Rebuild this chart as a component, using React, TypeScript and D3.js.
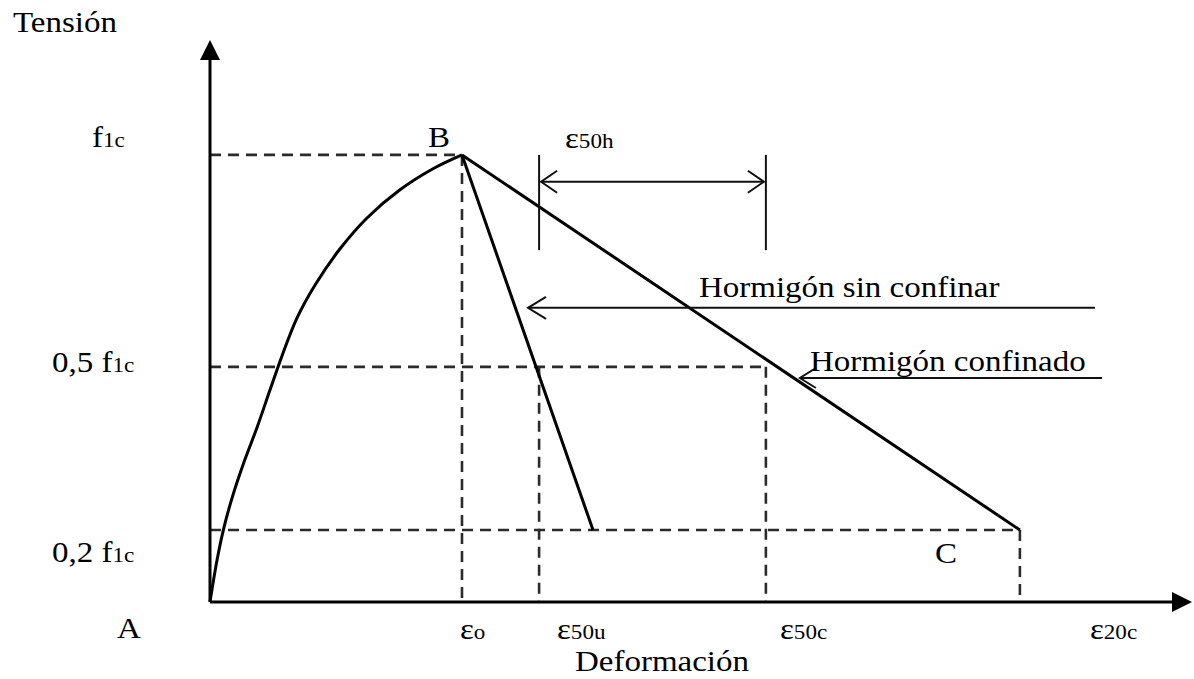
import React from 'react';
import * as d3 from 'd3';

// ---- Data (strain in units of ε0, stress in units of f1c) ----
const ascendingStrain = [0, 0.028, 0.056, 0.091, 0.135, 0.187, 0.238, 0.29, 0.345, 0.417, 0.516, 0.623, 0.754, 0.885, 1];
const ascendingStress = [0, 0.094, 0.168, 0.239, 0.313, 0.391, 0.474, 0.557, 0.635, 0.709, 0.79, 0.859, 0.922, 0.969, 1];
const unconfinedStrain = [1, 1.52];
const unconfinedStress = [1, 0.161];
const confinedStrain = [1, 3.214];
const confinedStress = [1, 0.161];

const stressLevels = [1, 0.526, 0.161];
const stressLabelMain = ['f', '0,5 f', '0,2 f'];
const stressLabelSub = ['1c', '1c', '1c'];
const stressLabelStrain = [-0.468, -0.627, -0.627];
const stressLabelStress = [1.018, 0.515, 0.09];

const strainMarks = [1, 1.306, 2.206, 3.214];
const strainLabelMain = ['ε', 'ε', 'ε', 'ε'];
const strainLabelSub = ['o', '50u', '50c', '20c'];
const strainLabelStrain = [0.992, 1.377, 2.262, 3.492];
const strainLabelStress = [-0.083, -0.083, -0.083, -0.083];

const X_MAX = 3.897;
const Y_MAX = 1.257;
const ARROW_LEN = 20;

const W = 1194;
const H = 679;

const FS = 30;
const SUB = 21;
const SX = 1.1;

function Label({ x, y, main, sub, anchor = 'start', fs = FS }: { x: number; y: number; main: string; sub?: string; anchor?: string; fs?: number }) {
  return (
    <text
      transform={`translate(${x},${y}) scale(${SX},1)`}
      fontFamily="'Liberation Serif', 'Times New Roman', serif"
      fontSize={fs}
      fill="#000"
      textAnchor={anchor}
    >
      <tspan>{main}</tspan>
      {sub ? <tspan fontSize={SUB}>{sub}</tspan> : null}
    </text>
  );
}

export default function App() {
  const x = d3.scaleLinear().domain([0, X_MAX]).range([210, 1192]);
  const y = d3.scaleLinear().domain([0, Y_MAX]).range([602, 40]);

  const asc = ascendingStrain.map((s, i) => [s, ascendingStress[i]] as [number, number]);
  const lineGen = d3
    .line<[number, number]>()
    .x((d) => x(d[0]))
    .y((d) => y(d[1]))
    .curve(d3.curveCatmullRom.alpha(0.5));
  const straight = d3
    .line<[number, number]>()
    .x((d) => x(d[0]))
    .y((d) => y(d[1]));

  const unconf = unconfinedStrain.map((s, i) => [s, unconfinedStress[i]] as [number, number]);
  const conf = confinedStrain.map((s, i) => [s, confinedStress[i]] as [number, number]);

  const x0 = x(0);
  const y0 = y(0);
  const xEnd = x(X_MAX);
  const yTop = y(Y_MAX);

  const dash = { stroke: '#2b2b2b', strokeWidth: 2.6, strokeDasharray: '11 7', fill: 'none' } as const;

  // annotations (data units)
  const dimLeft = strainMarks[1];
  const dimRight = strainMarks[2];
  const dimTop = 1.0;
  const dimBottom = 0.787;
  const dimArrow = 0.94;

  const sinY = 0.658;
  const sinX1 = 1.262;
  const sinX2 = 3.512;
  const confY = 0.501;
  const confX1 = 2.341;
  const confX2 = 3.54;

  const chevron = (px: number, py: number, dir: number, len: number, half: number) =>
    `M${px + dir * len},${py - half} L${px},${py} L${px + dir * len},${py + half}`;

  return (
    <svg
      width={W}
      height={H}
      style={{ position: 'absolute', left: 0, top: 0, background: '#fff' }}
    >
      <rect x={0} y={0} width={W} height={H} fill="#fff" />

      {/* dashed reference lines */}
      <line x1={x0} x2={x(strainMarks[0])} y1={y(stressLevels[0])} y2={y(stressLevels[0])} {...dash} />
      <line x1={x(strainMarks[0])} x2={x(strainMarks[0])} y1={y(stressLevels[0])} y2={y0} {...dash} />
      <line x1={x0} x2={x(strainMarks[2])} y1={y(stressLevels[1])} y2={y(stressLevels[1])} {...dash} />
      <line x1={x(strainMarks[1])} x2={x(strainMarks[1])} y1={y(stressLevels[1])} y2={y0} {...dash} />
      <line x1={x(strainMarks[2])} x2={x(strainMarks[2])} y1={y(stressLevels[1])} y2={y0} {...dash} />
      <line x1={x0} x2={x(strainMarks[3])} y1={y(stressLevels[2])} y2={y(stressLevels[2])} {...dash} />
      <line x1={x(strainMarks[3])} x2={x(strainMarks[3])} y1={y(stressLevels[2])} y2={y0} {...dash} />

      {/* axes */}
      <line x1={x0} x2={x0} y1={y0} y2={yTop + ARROW_LEN} stroke="#000" strokeWidth={3} />
      <path d={`M${x0},${yTop} L${x0 - 10},${yTop + ARROW_LEN} L${x0 + 10},${yTop + ARROW_LEN} Z`} fill="#000" />
      <line x1={x0} x2={xEnd - ARROW_LEN} y1={y0} y2={y0} stroke="#000" strokeWidth={3} />
      <path d={`M${xEnd},${y0} L${xEnd - ARROW_LEN},${y0 - 10} L${xEnd - ARROW_LEN},${y0 + 10} Z`} fill="#000" />

      {/* curves */}
      <path d={lineGen(asc) || ''} fill="none" stroke="#000" strokeWidth={3} strokeLinejoin="round" />
      <path d={straight(unconf) || ''} fill="none" stroke="#000" strokeWidth={3} strokeLinejoin="round" />
      <path d={straight(conf) || ''} fill="none" stroke="#000" strokeWidth={3} strokeLinejoin="round" />

      {/* ε50h dimension */}
      <line x1={x(dimLeft)} x2={x(dimLeft)} y1={y(dimTop)} y2={y(dimBottom)} stroke="#111" strokeWidth={2} />
      <line x1={x(dimRight)} x2={x(dimRight)} y1={y(dimTop)} y2={y(dimBottom)} stroke="#111" strokeWidth={2} />
      <line x1={x(dimLeft) + 2} x2={x(dimRight) - 2} y1={y(dimArrow)} y2={y(dimArrow)} stroke="#111" strokeWidth={2} />
      <path d={chevron(x(dimLeft) + 2, y(dimArrow), 1, 16, 11)} fill="none" stroke="#111" strokeWidth={2} />
      <path d={chevron(x(dimRight) - 2, y(dimArrow), -1, 16, 11)} fill="none" stroke="#111" strokeWidth={2} />
      <Label x={565} y={148} main="ε" sub="50h" />

      {/* annotation arrows */}
      <line x1={x(sinX1)} x2={x(sinX2)} y1={y(sinY)} y2={y(sinY)} stroke="#111" strokeWidth={2} />
      <path d={chevron(x(sinX1), y(sinY), 1, 18, 11)} fill="none" stroke="#111" strokeWidth={2} />
      <Label x={699} y={297} main="Hormigón sin confinar" />

      <line x1={x(confX1)} x2={x(confX2)} y1={y(confY)} y2={y(confY)} stroke="#111" strokeWidth={2} />
      <path d={chevron(x(confX1), y(confY), 1, 16, 10)} fill="none" stroke="#111" strokeWidth={2} />
      <Label x={810} y={371} main="Hormigón confinado" />

      {/* stress labels */}
      {stressLabelMain.map((m, i) => (
        <Label key={'s' + i} x={x(stressLabelStrain[i])} y={y(stressLabelStress[i])} main={m} sub={stressLabelSub[i]} />
      ))}

      {/* strain labels */}
      {strainLabelMain.map((m, i) => (
        <Label key={'e' + i} x={x(strainLabelStrain[i])} y={y(strainLabelStress[i])} main={m} sub={strainLabelSub[i]} />
      ))}

      {/* point labels */}
      <Label x={428} y={147} main="B" />
      <Label x={935} y={563} main="C" />
      <Label x={117} y={638} main="A" />

      {/* axis titles */}
      <Label x={13} y={32} main="Tensión" />
      <Label x={575} y={671} main="Deformación" />
    </svg>
  );
}
